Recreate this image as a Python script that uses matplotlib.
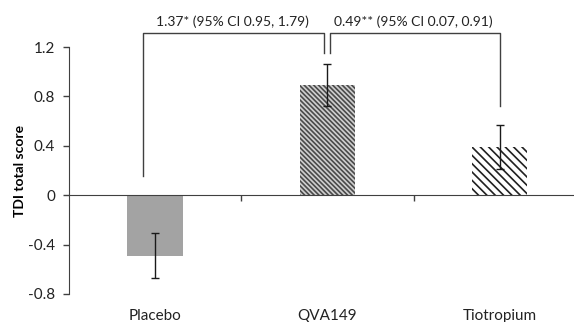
import matplotlib
matplotlib.use('Agg')
import matplotlib.pyplot as plt
import numpy as np

# data
groups = ['Placebo', 'QVA149', 'Tiotropium']
tdi = [-0.49, 0.89, 0.39]
tdi_err = [0.18, 0.17, 0.18]
y_ticks = [-0.8, -0.4, 0, 0.4, 0.8, 1.2]
y_tick_labels = ['-0.8', '-0.4', '0', '0.4', '0.8', '1.2']
diff_labels = ['1.37* (95% CI 0.95, 1.79)', '0.49** (95% CI 0.07, 0.91)']

plt.rcParams['font.family'] = ['Lato', 'DejaVu Sans']
plt.rcParams['hatch.linewidth'] = 1.2

fig = plt.figure(figsize=(5.74, 3.22), dpi=100)
ax = fig.add_axes([0.120, 0.087, 0.880, 0.767])

x = np.arange(len(groups))
faces = ['#a3a3a3', '#cfcfcf', 'white']
hatch_cols = ['#a3a3a3', '#4a4a4a', '#202020']
hatches = [None, '\\\\\\\\\\\\\\', '\\\\\\\\']
for i in range(len(groups)):
    ax.bar(x[i], tdi[i], width=0.32, color=faces[i], edgecolor=hatch_cols[i],
           hatch=hatches[i], linewidth=0, zorder=2)
ax.errorbar(x, tdi, yerr=tdi_err, fmt='none', ecolor='#1a1a1a',
            elinewidth=1, capsize=3, capthick=1, zorder=3)

ax.set_xlim(-0.5, 2.43)
ax.set_ylim(-0.8, 1.2)
ax.set_yticks(y_ticks)
ax.set_yticklabels(y_tick_labels, fontsize=11, color='#222222')
ax.tick_params(axis='y', direction='out', length=4, width=1, color='#404040', pad=6)

for s in ['top', 'right']:
    ax.spines[s].set_visible(False)
ax.spines['left'].set_color('#404040')
ax.spines['bottom'].set_position(('data', 0))
ax.spines['bottom'].set_color('#404040')
ax.spines['bottom'].set_zorder(4)
ax.set_xticks([0.5, 1.5])
ax.set_xticklabels([])
ax.tick_params(axis='x', direction='out', length=4, width=1, color='#404040')

for i, g in enumerate(groups):
    ax.text(x[i], -0.92, g, ha='center', va='top', fontsize=11, color='#222222')

ax.set_ylabel('TDI total score', fontsize=10, fontweight='bold', labelpad=1)

# comparison brackets
lc = '#404040'
ax.plot([-0.07, -0.07, 0.98, 0.98], [0.155, 1.31, 1.31, 1.15], color=lc,
        lw=1, clip_on=False)
ax.plot([1.015, 1.015, 2.0, 2.0], [1.15, 1.31, 1.31, 0.72], color=lc,
        lw=1, clip_on=False)
ax.text(0.45, 1.35, diff_labels[0], ha='center', va='bottom', fontsize=10,
        color='#222222', clip_on=False)
ax.text(1.5, 1.35, diff_labels[1], ha='center', va='bottom', fontsize=10,
        color='#222222', clip_on=False)

fig.savefig('out.png', dpi=100)
